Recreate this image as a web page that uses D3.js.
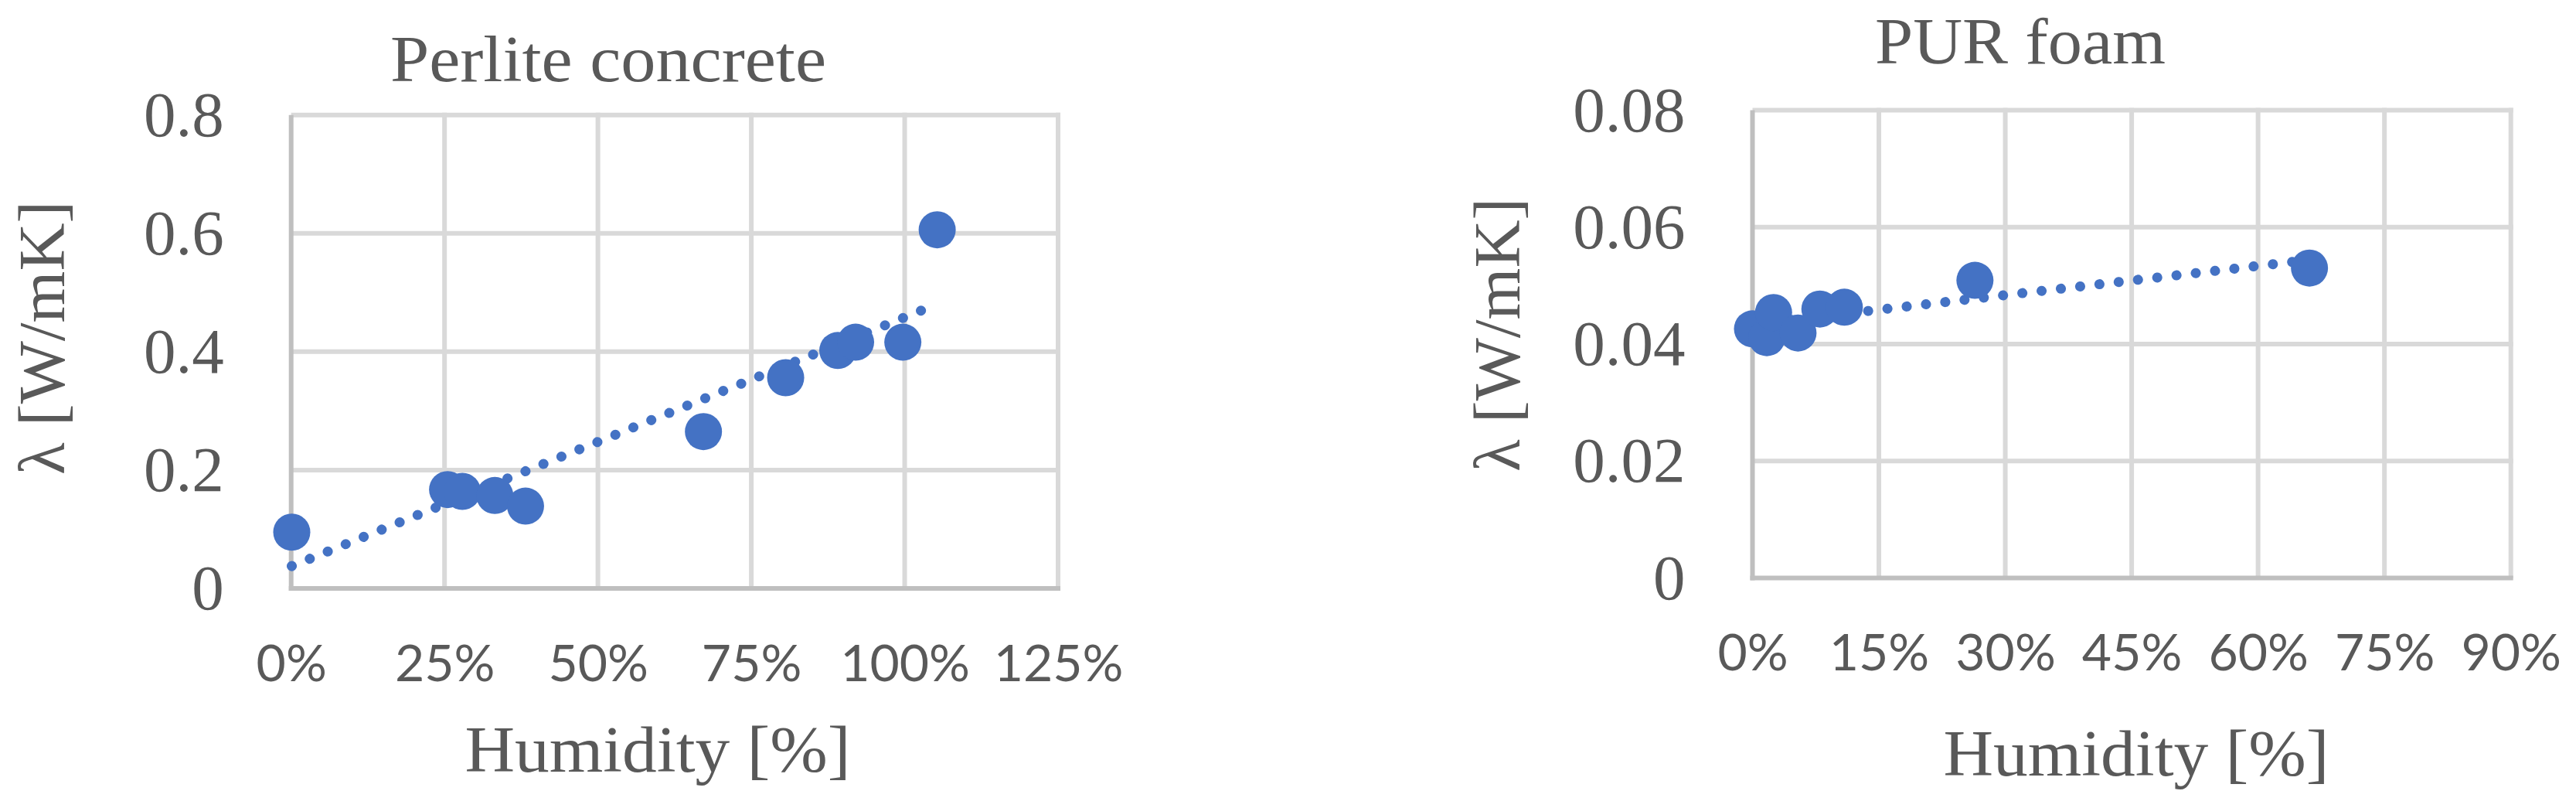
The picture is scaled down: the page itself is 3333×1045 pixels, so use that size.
<!DOCTYPE html>
<meta charset="utf-8">
<script src="https://d3js.org/d3.v7.min.js"></script>
<style>
  body { margin: 0; background: #fff; }
</style>
<div id="chart"></div>
<script>
  // Perlite concrete: humidity (as fraction) vs lambda [W/mK]
  var perliteHumidity = [0.001, 0.255, 0.279, 0.332, 0.382, 0.672, 0.806, 0.891, 0.920, 0.997, 1.053];
  var perliteLambda = [0.095, 0.167, 0.164, 0.157, 0.139, 0.265, 0.356, 0.402, 0.416, 0.416, 0.606];
  var perliteXTicks = [0, 0.25, 0.5, 0.75, 1, 1.25];
  var perliteYTicks = [0, 0.2, 0.4, 0.6, 0.8];

  // PUR foam
  var purHumidity = [0.000, 0.017, 0.025, 0.054, 0.080, 0.109, 0.264, 0.661];
  var purLambda = [0.0426, 0.0411, 0.0454, 0.0419, 0.0460, 0.0463, 0.0509, 0.0530];
  var purXTicks = [0, 0.15, 0.3, 0.45, 0.6, 0.75, 0.9];
  var purYTicks = [0, 0.02, 0.04, 0.06, 0.08];

  var titles = ["Perlite concrete", "PUR foam"];
  var xTitle = "Humidity [%]";
  var yTitle = "λ [W/mK]";

  var W = 3333, H = 1045;
  var blue = "#4472C4", textColor = "#595959", gridColor = "#d9d9d9", axisColor = "#bfbfbf";
  var serif = "'Liberation Serif', 'Times New Roman', serif";
  var sans = "Lato, 'Open Sans', sans-serif";

  var svg = d3.select("#chart")
    .append("svg")
    .attr("width", W)
    .attr("height", H);

  // linear least squares, like the Excel trendline
  function fit(xs, ys) {
    var mx = d3.mean(xs), my = d3.mean(ys);
    var sxy = d3.sum(xs, function (v, i) { return (v - mx) * (ys[i] - my); });
    var sxx = d3.sum(xs, function (v) { return (v - mx) * (v - mx); });
    var b = sxy / sxx;
    return { slope: b, icept: my - b * mx };
  }

  function drawChart(c) {
    var g = svg.append("g");

    var x = d3.scaleLinear()
      .domain([0, d3.max(c.xTicks)])
      .range([c.left, c.right]);
    var y = d3.scaleLinear()
      .domain([0, d3.max(c.yTicks)])
      .range([c.bottom, c.top]);

    // grid
    g.selectAll(".vgrid")
      .data(c.xTicks.slice(1))
      .enter().append("line")
      .attr("x1", function (d) { return x(d); })
      .attr("x2", function (d) { return x(d); })
      .attr("y1", c.top - 3)
      .attr("y2", c.bottom)
      .attr("stroke", gridColor)
      .attr("stroke-width", 6);
    g.selectAll(".hgrid")
      .data(c.yTicks.slice(1))
      .enter().append("line")
      .attr("x1", c.left)
      .attr("x2", c.right + 3)
      .attr("y1", function (d) { return y(d); })
      .attr("y2", function (d) { return y(d); })
      .attr("stroke", gridColor)
      .attr("stroke-width", 6);

    // axis lines
    g.append("line")
      .attr("x1", c.left).attr("x2", c.left)
      .attr("y1", c.top).attr("y2", c.bottom + 3)
      .attr("stroke", axisColor).attr("stroke-width", 6);
    g.append("line")
      .attr("x1", c.left - 3).attr("x2", c.right + 3)
      .attr("y1", c.bottom).attr("y2", c.bottom)
      .attr("stroke", axisColor).attr("stroke-width", 6);

    // tick labels
    var yAxis = g.append("g")
      .attr("transform", "translate(" + c.left + ",0)")
      .call(d3.axisLeft(y).tickValues(c.yTicks).tickSize(0).tickPadding(87).tickFormat(d3.format("~g")));
    yAxis.select(".domain").remove();
    yAxis.selectAll("text")
      .attr("font-family", serif)
      .attr("font-size", 83)
      .attr("fill", textColor);

    var xAxis = g.append("g")
      .attr("transform", "translate(0," + c.bottom + ")")
      .call(d3.axisBottom(x).tickValues(c.xTicks).tickSize(0).tickPadding(73).tickFormat(d3.format(".0%")));
    xAxis.select(".domain").remove();
    xAxis.selectAll("text")
      .attr("font-family", sans)
      .attr("font-size", 66)
      .attr("fill", textColor);

    // trendline
    var t = fit(c.xs, c.ys);
    var xr = d3.extent(c.xs);
    g.append("path")
      .datum(xr)
      .attr("d", d3.line()
        .x(function (d) { return x(d); })
        .y(function (d) { return y(t.icept + t.slope * d); }))
      .attr("fill", "none")
      .attr("stroke", blue)
      .attr("stroke-width", 13)
      .attr("stroke-linecap", "round")
      .attr("stroke-dasharray", "0.1 25");

    // markers
    g.selectAll(".pt")
      .data(c.xs)
      .enter().append("circle")
      .attr("cx", function (d) { return x(d); })
      .attr("cy", function (d, i) { return y(c.ys[i]); })
      .attr("r", 24)
      .attr("fill", blue);

    // titles
    g.append("text")
      .attr("x", c.titleX).attr("y", c.titleY)
      .attr("text-anchor", "middle")
      .attr("font-family", serif).attr("font-size", 84)
      .attr("fill", textColor)
      .attr("textLength", c.titleW).attr("lengthAdjust", "spacingAndGlyphs")
      .text(c.title);

    g.append("text")
      .attr("x", c.xTitleX).attr("y", c.xTitleY)
      .attr("text-anchor", "middle")
      .attr("font-family", serif).attr("font-size", 84)
      .attr("fill", textColor)
      .attr("textLength", 499).attr("lengthAdjust", "spacingAndGlyphs")
      .text(xTitle);

    g.append("text")
      .attr("transform", "translate(" + c.yTitleX + "," + c.yTitleY + ") rotate(-90)")
      .attr("text-anchor", "middle")
      .attr("font-family", serif).attr("font-size", 84)
      .attr("fill", textColor)
      .attr("textLength", 354).attr("lengthAdjust", "spacingAndGlyphs")
      .text(yTitle);
  }

  drawChart({
    xs: perliteHumidity, ys: perliteLambda, xTicks: perliteXTicks, yTicks: perliteYTicks,
    title: titles[0],
    left: 376.7, right: 1369, top: 148.7, bottom: 761,
    titleX: 787, titleY: 105, titleW: 564,
    xTitleX: 851, xTitleY: 998,
    yTitleX: 83, yTitleY: 437
  });

  drawChart({
    xs: purHumidity, ys: purLambda, xTicks: purXTicks, yTicks: purYTicks,
    title: titles[1],
    left: 2267.5, right: 3248.7, top: 142.5, bottom: 747.5,
    titleX: 2614, titleY: 82, titleW: 376,
    xTitleX: 2764, xTitleY: 1003,
    yTitleX: 1966, yTitleY: 433
  });
</script>
